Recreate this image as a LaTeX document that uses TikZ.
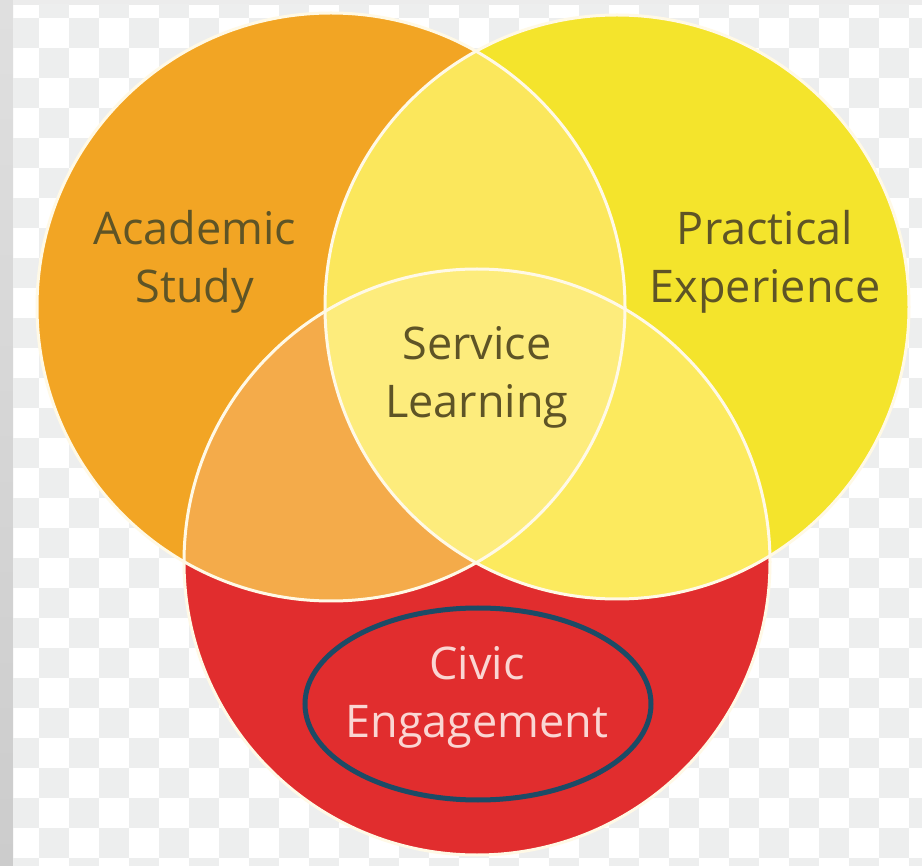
\documentclass[tikz,border=0pt]{standalone}
\usepackage{fontspec}
\setmainfont{Open Sans}
\usepackage{xcolor}
\definecolor{acadorange}{HTML}{F2A524}
\definecolor{practyellow}{HTML}{F4E42C}
\definecolor{civicred}{HTML}{E12D2E}
\definecolor{acadred}{HTML}{F4AB4A}
\definecolor{practred}{HTML}{FCEA5E}
\definecolor{acadpract}{HTML}{FBE75C}
\definecolor{servicemid}{HTML}{FDEC7C}
\definecolor{labeltext}{HTML}{5E5426}
\definecolor{civictext}{HTML}{FAD6D3}
\definecolor{ringblue}{HTML}{1C4B66}
\definecolor{checkgrey}{HTML}{EDEEEE}
\definecolor{rim}{HTML}{FFF9E6}

\begin{document}
\begin{tikzpicture}[x=1pt, y=-1pt,
        venn label/.style={font=\fontsize{45}{58}\selectfont, align=center, text=labeltext},
        rim line/.style={draw=rim, line width=3}]
        \useasboundingbox (0,0) rectangle (922,866);

        \fill [white] (0,0) rectangle (922,866);
        \shade [top color=gray!25, bottom color=gray!40] (0,0) rectangle (13,866);
        \fill [gray!15] (13,0) rectangle (922,5);
        \begin{scope}
            \clip (13,5) rectangle (922,866);
            \foreach \i in {0,...,30}
            {
                \foreach \j in {0,...,29}
                {
                    \pgfmathtruncatemacro{\odd}{mod(\i+\j,2)}
                    \ifnum\odd=1 \fill [checkgrey] ({9+30*\i},{-12+30*\j}) rectangle +(30,30); \fi
                }
            }
        \end{scope}

        \coordinate (acad) at (331,307);
        \coordinate (pract) at (617,307);
        \coordinate (civic) at (477,562);

        \fill [acadorange] (acad) circle [radius=294];
        \fill [practyellow] (pract) circle [radius=292];
        \fill [civicred] (civic) circle [radius=293];

        \begin{scope}
            \clip (acad) circle [radius=294];
            \fill [acadred] (civic) circle [radius=293];
            \fill [acadpract] (pract) circle [radius=292];
            \clip (pract) circle [radius=292];
            \fill [servicemid] (civic) circle [radius=293];
        \end{scope}
        \begin{scope}
            \clip (pract) circle [radius=292];
            \fill [practred] (civic) circle [radius=293];
            \clip (acad) circle [radius=294];
            \fill [servicemid] (civic) circle [radius=293];
        \end{scope}

        \draw [rim line] (acad) circle [radius=294];
        \draw [rim line] (pract) circle [radius=292];
        \draw [rim line] (civic) circle [radius=293];

        \node [venn label] (study) at (195, 262) {Academic\\Study};
        \node [venn label] (experience) at (765, 262) {Practical\\Experience};
        \node [venn label] (service) at (477, 377) {Service\\Learning};
        \node [venn label, text=civictext] (engagement) at (477, 697) {Civic\\Engagement};

        \draw [ringblue, line width=5] (478,704) ellipse [x radius=173, y radius=96];
    \end{tikzpicture}
\end{document}
